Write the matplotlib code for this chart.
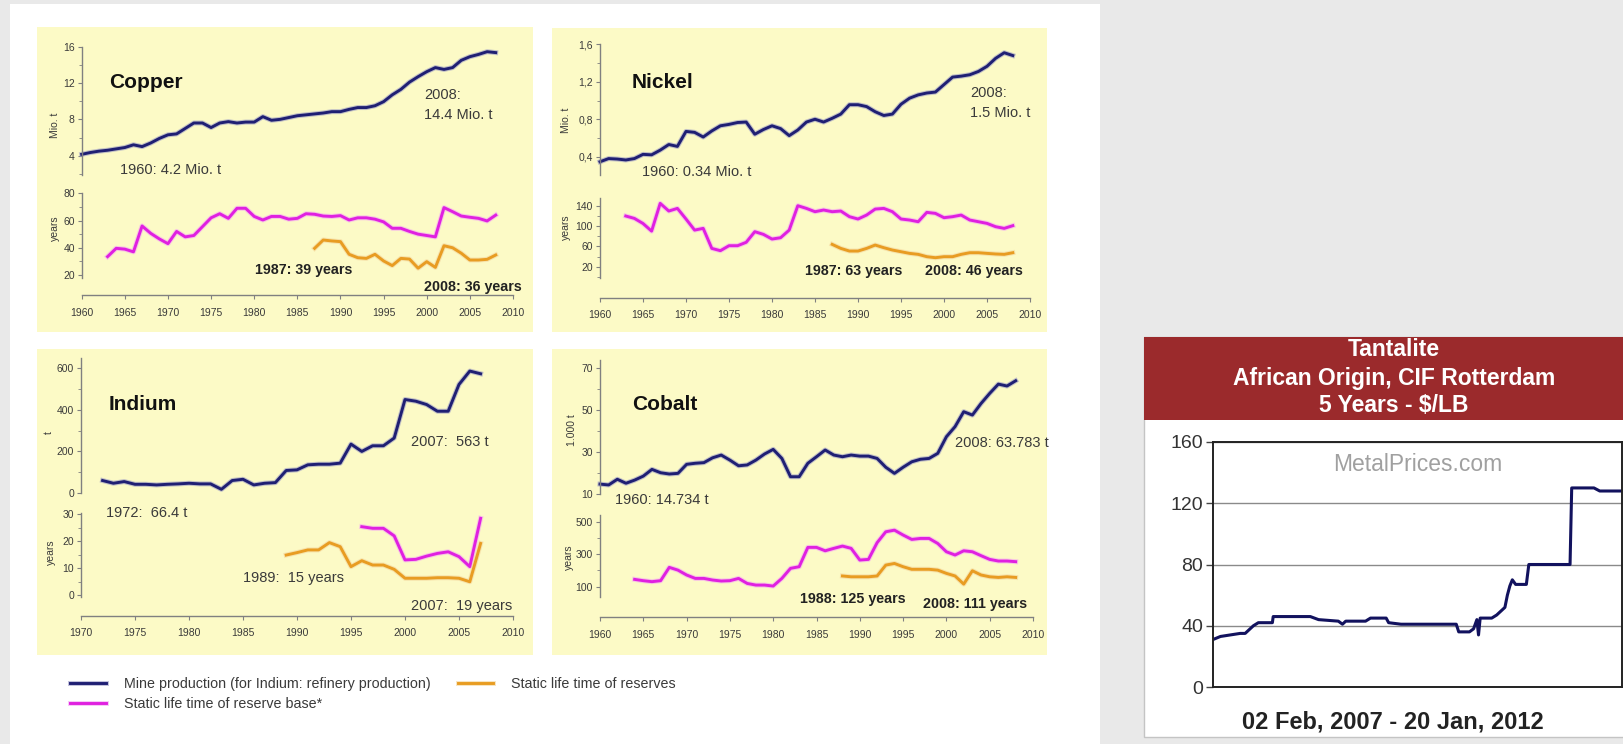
"""
Static life time of reserves for copper, nickel, indium and cobalt,
next to a five-year tantalite price chart.
"""

import numpy as np
import matplotlib
matplotlib.use("Agg")
import matplotlib.pyplot as plt
import matplotlib.patheffects as pe
from matplotlib.patches import Rectangle
from matplotlib.ticker import MultipleLocator, FixedLocator, FuncFormatter

# ── data ───────────────────────────────────────────────────────────────────────
copper_years = np.arange(1960, 2009)
copper_prod = [4.15, 4.35, 4.5, 4.6, 4.75, 4.9, 5.2, 5.0, 5.4, 5.9,
               6.3, 6.4, 7.0, 7.6, 7.6, 7.1, 7.6, 7.75, 7.6, 7.7,
               7.7, 8.3, 7.9, 8.0, 8.2, 8.4, 8.5, 8.6, 8.7, 8.85,
               8.85, 9.1, 9.3, 9.3, 9.5, 9.95, 10.7, 11.3, 12.1, 12.7,
               13.25, 13.7, 13.5, 13.7, 14.5, 14.9, 15.15, 15.45, 15.35]
copper_base_years = np.arange(1963, 2009)
copper_base = [33.5, 39.6, 39, 37, 56, 50.6, 46.5,
               43, 52, 48, 49, 55.5, 62, 65, 61.6, 69, 69,
               63, 60.4, 63, 63, 61, 61.6, 65, 64.6, 63.3, 63,
               63.6, 60.4, 62, 62, 61, 59, 54.3, 54.3, 52, 50,
               49, 48, 69.5, 66.5, 63.3, 62.4, 61.6, 59.7, 64]
copper_res_years = np.arange(1987, 2009)
copper_res = [39.6, 45.7, 45, 44.5, 35.2, 32.7, 32.2, 35.2, 30.3, 26.9, 32.2,
              31.7, 25, 29.8, 25.6, 41.5, 40, 36, 31, 31, 31.5, 34.7]

nickel_years = np.arange(1960, 2009)
nickel_prod = [0.346, 0.38, 0.375, 0.365, 0.38, 0.425, 0.42, 0.47, 0.53, 0.51,
               0.67, 0.66, 0.61, 0.675, 0.73, 0.745, 0.765, 0.77, 0.64, 0.69,
               0.73, 0.70, 0.625, 0.685, 0.77, 0.80, 0.77, 0.81, 0.855, 0.955,
               0.955, 0.935, 0.88, 0.84, 0.855, 0.96, 1.025, 1.06, 1.08, 1.09,
               1.17, 1.25, 1.26, 1.275, 1.31, 1.365, 1.45, 1.51, 1.48]
nickel_base_years = np.arange(1963, 2009)
nickel_base = [119.7, 115, 105, 90, 144.6, 129.5, 134.7,
               113.8, 92, 95.4, 56, 51.5, 61.3, 61.3, 68, 88.9, 83.6,
               74.4, 77, 92, 140, 134.7, 128.2, 131.5, 128.2, 129.5, 118.4,
               113.8, 121.6, 133.4, 134.7, 128.2, 113.8, 111.8, 108.5, 126.9, 124.9,
               116.4, 118.4, 121.6, 111.8, 108.5, 105.2, 98.7, 95.4, 100.7]
nickel_res_years = np.arange(1987, 2009)
nickel_res = [63.9, 56, 50.8, 50.8, 56, 62.6, 57.4, 52.8, 49.5, 46.2, 44.3,
              39.7, 37.7, 39.7, 39.7, 44.3, 47.5, 47.5, 46.2, 45, 44.3, 47.5]

indium_years = np.arange(1972, 2008)
indium_prod = [61, 48, 56, 43, 43, 40, 43, 45,
               48, 45, 45, 19, 61, 67, 40, 48, 51, 109,
               112, 136, 139, 139, 144, 235, 200, 227, 227, 264,
               448, 440, 424, 392, 392, 520, 584, 571]
indium_base_years = np.arange(1996, 2008)
indium_base = [25.3, 24.7, 24.7, 21.9, 13, 13.2, 14.4, 15.4, 16, 14.2, 10.5, 28.4]
indium_res_years = np.arange(1989, 2008)
indium_res = [14.8, 15.7, 16.7, 16.7, 19.4, 17.9, 10.5, 12.7, 11.1, 11.1,
              9.5, 6.2, 6.2, 6.2, 6.4, 6.4, 6.2, 4.9, 19.1]

cobalt_years = np.arange(1960, 2009)
cobalt_prod = [14.7, 14.3, 17, 15.1, 16.6, 18.5, 21.7, 20.1, 19.5, 19.8,
               24.1, 24.6, 24.9, 27.2, 28.5, 26.1, 23.4, 23.8, 26.1, 29,
               31.2, 26.9, 18.2, 18.2, 24.6, 27.7, 30.9, 28.5, 27.7, 28.5,
               28, 28, 26.9, 22.7, 19.8, 22.7, 25.3, 26.5, 26.9, 29.3,
               37.2, 42, 49.1, 47.5, 53, 57.8, 62.2, 61.3, 63.8]
cobalt_base_years = np.arange(1964, 2009)
cobalt_base = [145, 137, 131, 137, 219, 202,
               172, 151, 151, 141, 135, 137, 151, 120, 110, 110,
               104, 151, 213, 223, 342, 342, 321, 336, 350, 336,
               264, 268, 371, 438, 448, 418, 391, 397, 397, 366,
               315, 295, 321, 315, 291, 268, 258, 258, 254]
cobalt_res_years = np.arange(1988, 2009)
cobalt_res = [166, 161, 161, 161, 166, 233, 243, 223, 207, 207, 207,
              202, 182, 166, 116, 198, 172, 161, 157, 161, 157]

# tantalite price, decimal years vs $/lb
tant_t = [2007.09, 2007.18, 2007.42, 2007.48, 2007.58, 2007.64, 2007.81, 2007.82,
          2008.27, 2008.37, 2008.61, 2008.66, 2008.70, 2008.94, 2009.00, 2009.19,
          2009.22, 2009.37, 2010.04, 2010.07, 2010.20, 2010.25, 2010.29, 2010.31,
          2010.33, 2010.47, 2010.53, 2010.59, 2010.63, 2010.66, 2010.69, 2010.72,
          2010.76, 2010.89, 2010.92, 2011.42, 2011.44, 2011.71, 2011.78, 2012.05]
tant_price = [31, 33, 35, 35, 40, 42, 42, 46,
              46, 44, 43, 41, 43, 43, 45, 45,
              42, 41, 41, 36, 36, 38, 44, 34,
              45, 45, 47, 50, 52, 60, 66, 70,
              67, 67, 80, 80, 130, 130, 128, 128]

legend_labels = ["Mine production (for Indium: refinery production)",
                 "Static life time of reserve base*",
                 "Static life time of reserves"]

# ── style ──────────────────────────────────────────────────────────────────────
NARROW = ["Liberation Sans Narrow", "Liberation Sans", "DejaVu Sans"]
ARIAL = ["Liberation Sans", "DejaVu Sans"]
plt.rcParams["font.family"] = NARROW

NAVY, MAGENTA, ORANGE = "#1f1f73", "#e020e0", "#e89c22"
HALO = {NAVY: "#9a9ac4", MAGENTA: "#f3a6f3", ORANGE: "#f3d49a"}
YELLOW = "#fcfac6"
AXC = "#808080"
TXT = "#3a3a3a"

W, H = 1624, 744
fig = plt.figure(figsize=(W / 100, H / 100), dpi=100)
fig.patch.set_facecolor("#e9e9e9")


def fig_rect(x0, y0, x1, y1):
    return [x0 / W, 1 - y1 / H, (x1 - x0) / W, (y1 - y0) / H]


def bg(x0, y0, x1, y1, color, ec="none"):
    fig.add_artist(Rectangle((x0 / W, 1 - y1 / H), (x1 - x0) / W, (y1 - y0) / H,
                             transform=fig.transFigure, facecolor=color,
                             edgecolor=ec, lw=1, zorder=-5))


def ftext(x, y, s, **kw):
    kw.setdefault("va", "center")
    fig.text(x / W, 1 - y / H, s, **kw)


def sub_axes(x0, x1, ytop, ybot, xlim, ref_hi, ref_lo):
    # ref_hi / ref_lo: (tick value, pixel row) used to place the value scale
    (vh, ph), (vl, pl) = ref_hi, ref_lo
    k = (vh - vl) / (pl - ph)
    ax = fig.add_axes(fig_rect(x0, ytop, x1, ybot))
    ax.set_xlim(*xlim)
    ax.set_ylim(vl - (ybot - pl) * k, vh + (ph - ytop) * k)
    ax.patch.set_visible(False)
    for s in ("top", "right"):
        ax.spines[s].set_visible(False)
    for s in ("left", "bottom"):
        ax.spines[s].set_color(AXC)
        ax.spines[s].set_linewidth(1)
    ax.tick_params(axis="y", which="major", direction="out", length=3, width=0.8,
                   color=AXC, labelsize=7.5, labelcolor=TXT, pad=2)
    ax.tick_params(axis="y", which="minor", direction="out", length=2, width=0.6, color=AXC)
    return ax, k


def minor_between(lo, hi, step):
    return [v for v in np.arange(0, hi + step, step) if lo <= v <= hi]


def series(ax, x, y, color):
    return ax.plot(x, y, color=color, lw=2.1, clip_on=False, solid_joinstyle="round",
                   path_effects=[pe.Stroke(linewidth=3.6, foreground=HALO[color], alpha=0.6),
                                 pe.Normal()])[0]


def draw_metal(x0, x1, xlim, top, bot, prod, base, res,
               top_ticks, top_minor, bot_ticks, bot_minor, fmt=None):
    # top: (ytop, ybot, ref_hi, ref_lo); bot: (ytop, ybot, ref_hi, ref_lo, spine_end_px)
    at, _ = sub_axes(x0, x1, top[0], top[1], xlim, top[2], top[3])
    at.spines["bottom"].set_visible(False)
    at.set_xticks([])
    at.yaxis.set_major_locator(FixedLocator(top_ticks))
    lo, hi = at.get_ylim()
    at.yaxis.set_minor_locator(FixedLocator(minor_between(lo, hi, top_minor)))
    if fmt:
        at.yaxis.set_major_formatter(FuncFormatter(fmt))
    l1 = series(at, *prod, NAVY)

    ab, k = sub_axes(x0, x1, bot[0], bot[1], xlim, bot[2], bot[3])
    (vh, ph), (vl, pl) = bot[2], bot[3]
    spine_lo = vl - (bot[4] - pl) * k
    ab.spines["left"].set_bounds(spine_lo, ab.get_ylim()[1])
    ab.yaxis.set_major_locator(FixedLocator(bot_ticks))
    ab.yaxis.set_minor_locator(FixedLocator(minor_between(spine_lo, ab.get_ylim()[1], bot_minor)))
    ab.xaxis.set_major_locator(MultipleLocator(5))
    ab.tick_params(axis="x", direction="out", length=3, width=0.8, color=AXC,
                   labelsize=7.5, labelcolor=TXT, pad=6)
    l2 = series(ab, *base, MAGENTA)
    l3 = series(ab, *res, ORANGE)
    return l1, l2, l3


# ── backgrounds ────────────────────────────────────────────────────────────────
bg(10, 4, 1100, 750, "white")
for (px0, py0, px1, py1) in [(37, 27, 533, 332), (552, 28, 1047, 332),
                             (37, 349, 533, 655), (552, 349, 1047, 655)]:
    bg(px0, py0, px1, py1, YELLOW)

TITLE = dict(fontsize=15, fontweight="bold", family=ARIAL, color="#111")
NOTE = dict(fontsize=10.5, color=TXT)
BOLD = dict(fontsize=10.3, fontweight="bold", color="#222")
YLAB = dict(fontsize=7.5, rotation=90, ha="center", color=TXT)

# ── copper ─────────────────────────────────────────────────────────────────────
draw_metal(81.7, 513, (1960, 2010),
           (46.7, 175, (16, 46.7), (4, 155.7)),
           (193.3, 295, (80, 193.3), (20, 275), 278),
           (copper_years, copper_prod), (copper_base_years, copper_base),
           (copper_res_years, copper_res),
           [4, 8, 12, 16], 2, [20, 40, 60, 80], 10)
ftext(109, 82, "Copper", **TITLE)
ftext(120, 170, "1960: 4.2 Mio. t", **NOTE)
ftext(424, 95, "2008:", **NOTE)
ftext(424, 115, "14.4 Mio. t", **NOTE)
ftext(255, 270, "1987: 39 years", **BOLD)
ftext(424, 287, "2008: 36 years", **BOLD)
ftext(55, 125, "Mio. t", **YLAB)
ftext(55, 228, "years", **YLAB)

# ── nickel ─────────────────────────────────────────────────────────────────────
draw_metal(600, 1030, (1960, 2010),
           (44.3, 175, (1.6, 44.3), (0.4, 156.7)),
           (198, 298, (140, 205.7), (20, 266.7), 278),
           (nickel_years, nickel_prod), (nickel_base_years, nickel_base),
           (nickel_res_years, nickel_res),
           [0.4, 0.8, 1.2, 1.6], 0.2, [20, 60, 100, 140], 20,
           fmt=lambda v, p: f"{v:.1f}".replace(".", ","))
ftext(632, 82, "Nickel", **TITLE)
ftext(642, 172, "1960: 0.34 Mio. t", **NOTE)
ftext(970, 93, "2008:", **NOTE)
ftext(970, 113, "1.5 Mio. t", **NOTE)
ftext(805, 271, "1987: 63 years", **BOLD)
ftext(925, 271, "2008: 46 years", **BOLD)
ftext(566, 120, "Mio. t", **YLAB)
ftext(566, 227, "years", **YLAB)

# ── indium ─────────────────────────────────────────────────────────────────────
draw_metal(81, 513, (1970, 2010),
           (358, 493.3, (600, 367.7), (0, 493.3)),
           (513, 616, (30, 514), (0, 595), 597),
           (indium_years, indium_prod), (indium_base_years, indium_base),
           (indium_res_years, indium_res),
           [0, 200, 400, 600], 100, [0, 10, 20, 30], 5)
ftext(109, 404, "Indium", **TITLE)
ftext(106, 513, "1972:  66.4 t", **NOTE)
ftext(411, 442, "2007:  563 t", **NOTE)
ftext(243, 578, "1989:  15 years", **NOTE)
ftext(411, 606, "2007:  19 years", **NOTE)
ftext(49, 433, "t", **YLAB)
ftext(51, 552, "years", **YLAB)

# ── cobalt ─────────────────────────────────────────────────────────────────────
lines = draw_metal(600, 1033, (1960, 2010),
                   (360, 494, (70, 367.7), (10, 494)),
                   (515, 617, (500, 521.7), (100, 586.7), 597),
                   (cobalt_years, cobalt_prod), (cobalt_base_years, cobalt_base),
                   (cobalt_res_years, cobalt_res),
                   [10, 30, 50, 70], 10, [100, 300, 500], 100)
ftext(632, 404, "Cobalt", **TITLE)
ftext(615, 500, "1960: 14.734 t", **NOTE)
ftext(955, 443, "2008: 63.783 t", **NOTE)
ftext(800, 599, "1988: 125 years", **BOLD)
ftext(923, 604, "2008: 111 years", **BOLD)
ftext(572, 430, "1.000 t", **YLAB)
ftext(569, 557, "years", **YLAB)

# ── legend ─────────────────────────────────────────────────────────────────────
leg = fig.legend(lines, legend_labels, ncol=2, loc="upper left",
                 bbox_to_anchor=(70 / W, 1 - 677 / H), frameon=False,
                 fontsize=10.3, handlelength=2.5, handletextpad=1.25,
                 columnspacing=1.9, labelspacing=0.4, borderpad=0, borderaxespad=0)
for t in leg.get_texts():
    t.set_color(TXT)

# ── tantalite price chart ──────────────────────────────────────────────────────
bg(1144, 337, 1626, 737, "white", ec="#c4c4c4")
bg(1144, 337, 1626, 420, "#9b2a2c")
for y, s in [(350, "Tantalite"), (379, "African Origin, CIF Rotterdam"), (406, "5 Years - $/LB")]:
    ftext(1394, y, s, fontsize=16.5, fontweight="bold", family=ARIAL, color="white", ha="center")

at = fig.add_axes(fig_rect(1213, 442, 1622, 687))
at.plot(tant_t, tant_price, color="#12125e", lw=2.2)
at.set_xlim(2007.09, 2012.05)
at.set_ylim(0, 160)
at.set_yticks([0, 40, 80, 120, 160])
at.set_xticks([])
at.yaxis.grid(True, color="#8a8a8a", lw=1)
at.set_axisbelow(True)
for s in at.spines.values():
    s.set_color("#222")
    s.set_linewidth(1.4)
at.tick_params(axis="y", direction="out", length=5, width=1, color="#444",
               labelsize=14, labelcolor="#333", pad=2)
for lab in at.get_yticklabels():
    lab.set_family(ARIAL)
at.text(0.5, 0.91, "MetalPrices.com", transform=at.transAxes, ha="center", va="center",
        fontsize=16.5, color="#a0a0a0", family=ARIAL)
ftext(1393, 722, "02 Feb, 2007 - 20 Jan, 2012", fontsize=17, fontweight="bold",
      family=ARIAL, color="#222", ha="center")

fig.savefig("out.png", dpi=100, facecolor=fig.get_facecolor())
